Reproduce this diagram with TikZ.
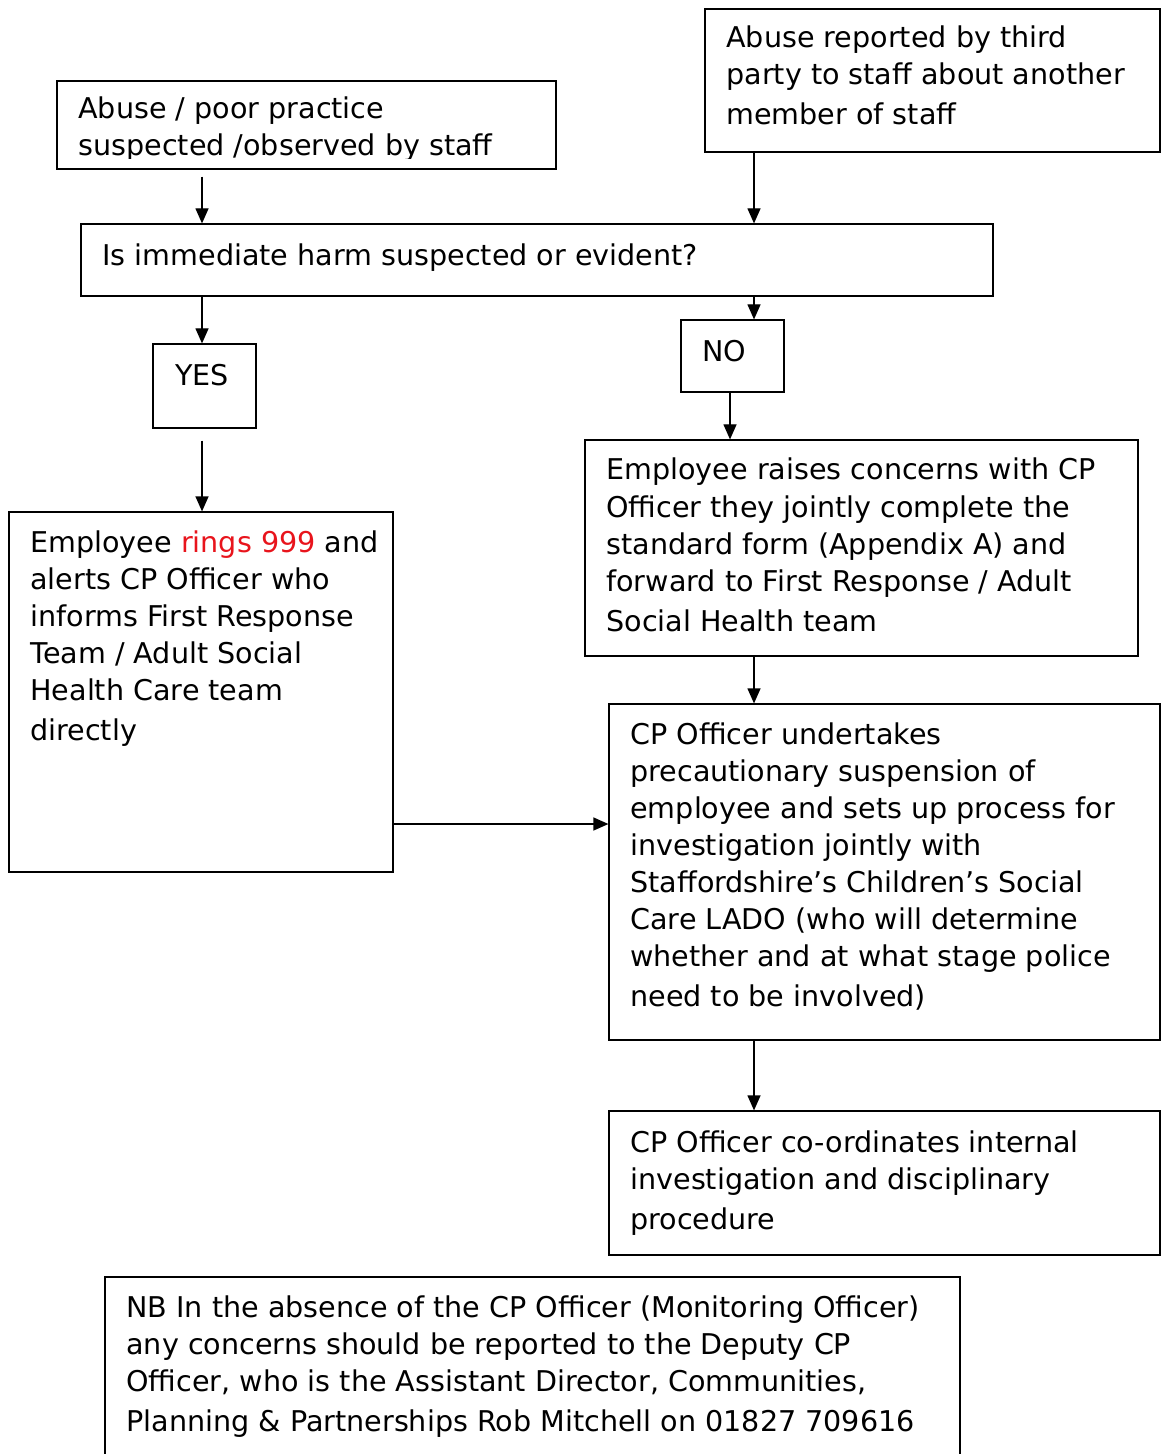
\documentclass[tikz,border=0pt]{standalone}
\usepackage{fontspec}
\setmainfont{DejaVu Sans}
\usetikzlibrary{arrows.meta,fit}
\definecolor{alarm}{HTML}{E8141C}
\begin{document}
\begin{tikzpicture}[x=0.5pt,y=-0.5pt,
  box/.style={draw, line width=0.6pt, inner sep=0pt},
  txt/.style={inner sep=0pt, anchor=base west, font=\fontsize{14.3}{18.5}\selectfont},
  arr/.style={-{Triangle[length=7.5pt,width=6.5pt]}, line width=0.6pt}]
\useasboundingbox (0,0) rectangle (1161,1454);
\newcommand\mybox[5]{\path (#2,#3) coordinate (#1-nw) (#4,#5) coordinate (#1-se);
  \node[box, fit=(#1-nw)(#1-se)] (#1) {};}
\mybox{A}{57}{81}{556}{169}
\mybox{B}{705}{9}{1160}{152}
\mybox{C}{81}{224}{993}{296}
\mybox{YES}{153}{344}{256}{428}
\mybox{NO}{681}{320}{784}{392}
\mybox{L}{9}{512}{393}{872}
\mybox{R1}{585}{440}{1138}{656}
\mybox{R2}{609}{704}{1160}{1040}
\mybox{R3}{609}{1111}{1160}{1255}
\mybox{NB}{105}{1277}{960}{1470}
\begin{scope}
\clip (57,81) rectangle (556,159);
\node[txt] (tA) at (78,119) {\begin{tabular}[t]{@{}l@{}}Abuse / poor practice\\ suspected /observed by staff\end{tabular}};
\end{scope}
\node[txt] (tB) at (726,48) {\begin{tabular}[t]{@{}l@{}}Abuse reported by third\\ party to staff about another\\[1.5pt] member of staff\end{tabular}};
\node[txt] (tC) at (102,266) {Is immediate harm suspected or evident?};
\node[txt] (tYES) at (175,386) {YES};
\node[txt] (tNO) at (702,362) {NO};
\node[txt] (tL) at (30,552) {\begin{tabular}[t]{@{}l@{}}Employee \textcolor{alarm}{rings 999} and\\ alerts CP Officer who\\ informs First Response\\ Team / Adult Social\\ Health Care team\\[1.5pt] directly\end{tabular}};
\node[txt] (tR1) at (606,480) {\begin{tabular}[t]{@{}l@{}}Employee raises concerns with CP\\ Officer they jointly complete the\\ standard form (Appendix A) and\\ forward to First Response / Adult\\[1.5pt] Social Health team\end{tabular}};
\node[txt] (tR2) at (630,744) {\begin{tabular}[t]{@{}l@{}}CP Officer undertakes\\ precautionary suspension of\\ employee and sets up process for\\ investigation jointly with\\ Staffordshire’s Children’s Social\\ Care LADO (who will determine\\ whether and at what stage police\\[1.5pt] need to be involved)\end{tabular}};
\node[txt] (tR3) at (630,1152) {\begin{tabular}[t]{@{}l@{}}CP Officer co-ordinates internal\\ investigation and disciplinary\\[1.5pt] procedure\end{tabular}};
\node[txt] (tNB) at (126,1317) {\begin{tabular}[t]{@{}l@{}}NB In the absence of the CP Officer (Monitoring Officer)\\ any concerns should be reported to the Deputy CP\\ Officer, who is the Assistant Director, Communities,\\[1.5pt] Planning \& Partnerships Rob Mitchell on 01827 709616\end{tabular}};
\coordinate (xL) at (202,0);
\coordinate (xR) at (754,0);
\coordinate (xN) at (730,0);
\coordinate (yM) at (0,824);
\draw[arr, shorten <=3.5pt] (A.south -| xL) -- (C.north -| xL);
\draw[arr] (B.south -| xR) -- (C.north -| xR);
\draw[arr] (C.south -| xL) -- (YES.north -| xL);
\draw[arr] (C.south -| xR) -- (NO.north -| xR);
\draw[arr, shorten <=6pt] (YES.south -| xL) -- (L.north -| xL);
\draw[arr] (NO.south -| xN) -- (R1.north -| xN);
\draw[arr] (R1.south -| xR) -- (R2.north -| xR);
\draw[arr] (L.east |- yM) -- (R2.west |- yM);
\draw[arr] (R2.south -| xR) -- (R3.north -| xR);
\end{tikzpicture}
\end{document}
